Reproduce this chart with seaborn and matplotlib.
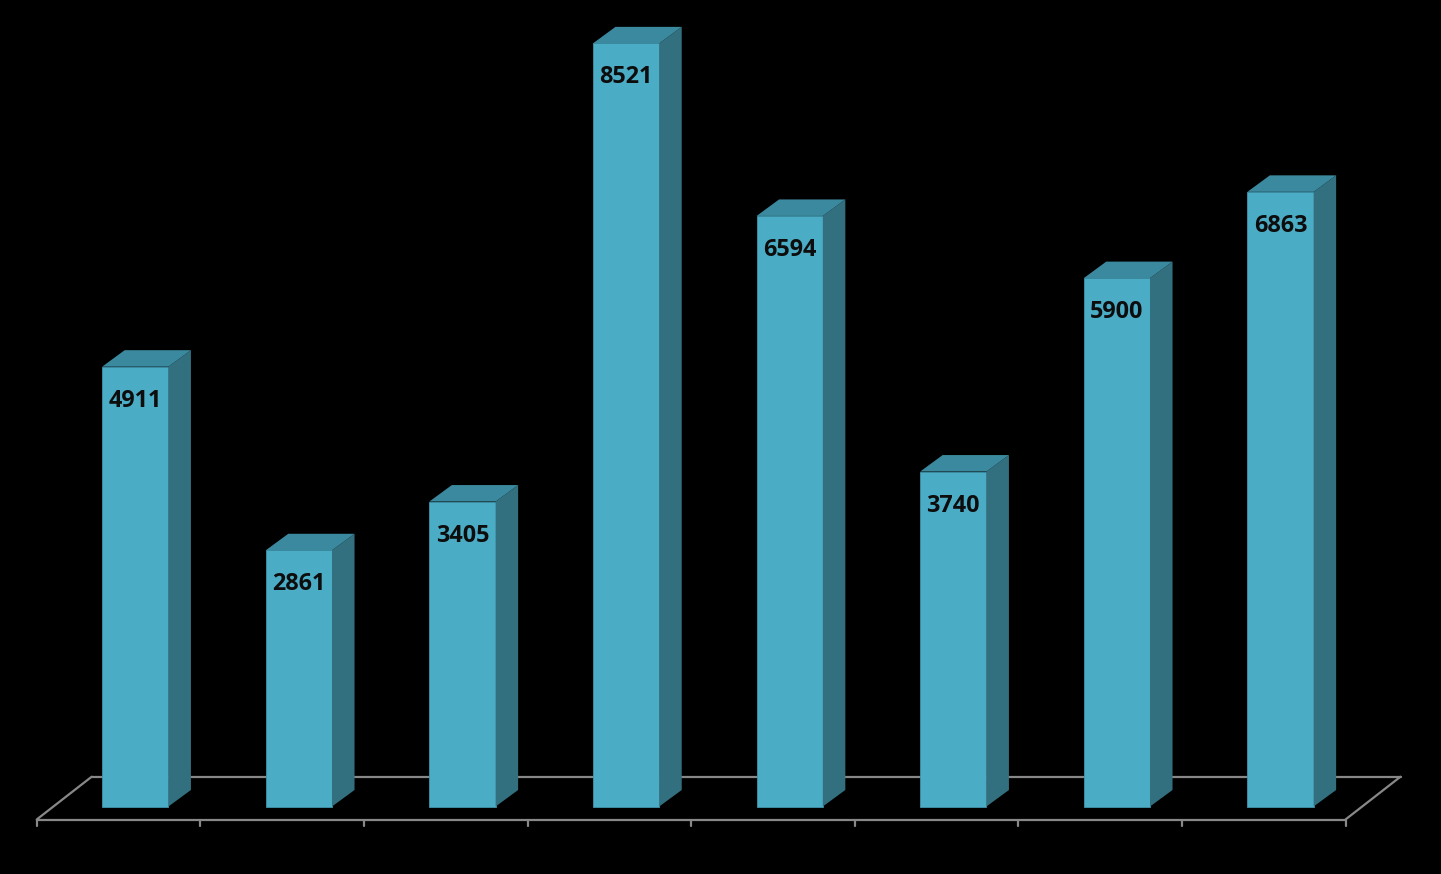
import matplotlib
matplotlib.use('Agg')
import matplotlib.pyplot as plt
from matplotlib.patches import Polygon
import numpy as np
import seaborn as sns

sns.set_style("dark")
plt.rcParams['font.family'] = ['Open Sans', 'DejaVu Sans']

# 数据
categories = ['C1', 'C2', 'C3', 'C4', 'C5', 'C6', 'C7', 'C8']
values = [4911, 2861, 3405, 8521, 6594, 3740, 5900, 6863]

# 颜色
front_color = '#4BACC6'
top_color = '#3B899E'
side_color = '#33707F'
floor_color = '#888888'

W, H = 1441, 874
fig = plt.figure(figsize=(W / 100, H / 100), dpi=100, facecolor='black')
ax = fig.add_axes([0, 0, 1, 1])
ax.set_facecolor('black')

# 像素换算
px_cat = 163.6          # 每个类别的像素宽度
x0_px = 135.3           # 第一根柱子正面中心
y0_px = 806.5           # 柱底
px_val = 0.08956        # 每单位数值的像素

sns.barplot(x=categories, y=values, color=front_color, saturation=1,
            width=0.405, ax=ax, zorder=3, edgecolor='#3F93AA', linewidth=0.6)

# 立体效果（深度）
dx = 22.5 / px_cat
dy = 16.5 / px_val
for p in list(ax.patches):
    x, w, h = p.get_x(), p.get_width(), p.get_height()
    side = Polygon([(x + w, 0), (x + w + dx, dy), (x + w + dx, h + dy), (x + w, h)],
                   closed=True, facecolor=side_color, edgecolor='none', zorder=3)
    top = Polygon([(x, h), (x + dx, h + dy), (x + w + dx, h + dy), (x + w, h)],
                  closed=True, facecolor=top_color, edgecolor='none', zorder=3)
    ax.add_patch(side)
    ax.add_patch(top)
    ax.text(x + w / 2, h - 34 / px_val, f'{int(h)}', ha='center', va='center',
            fontsize=16.8, fontweight='bold', color='#0D0D0D', zorder=5)

# 底面
n = len(categories)
shift = 16.8 / px_cat
fy = -(819.5 - y0_px) / px_val
by = (y0_px - 776.7) / px_val
fdx = 55 / px_cat
left = -0.5 - shift
right = n - 0.5 - shift
ax.plot([left, right], [fy, fy], color=floor_color, lw=1.6, zorder=1, solid_capstyle='butt')
ax.plot([left + fdx, right + fdx], [by, by], color=floor_color, lw=1.6, zorder=1)
ax.plot([left, left + fdx], [fy, by], color=floor_color, lw=1.6, zorder=1)
ax.plot([right, right + fdx], [fy, by], color=floor_color, lw=1.6, zorder=1)
tick_len = 6 / px_val
for i in range(n + 1):
    tx = left + i
    ax.plot([tx, tx], [fy, fy - tick_len], color=floor_color, lw=1.6, zorder=1)

ax.set_xlim(-x0_px / px_cat, (W - x0_px) / px_cat)
ax.set_ylim(-(H - y0_px) / px_val, y0_px / px_val)
ax.set_axis_off()
fig.savefig('out.png', dpi=100, facecolor='black')
